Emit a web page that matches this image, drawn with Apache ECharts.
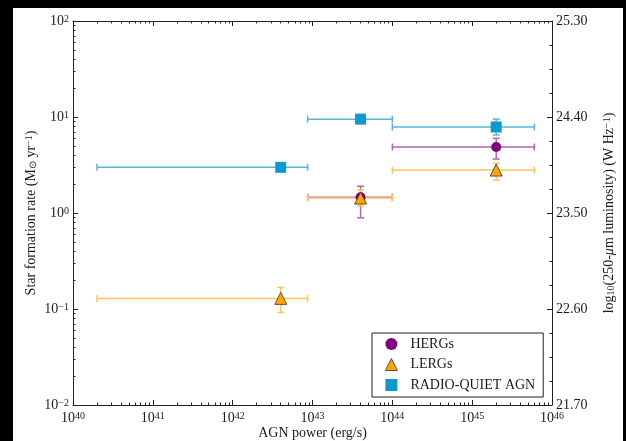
<!DOCTYPE html>
<html><head><meta charset="utf-8">
<script src="https://cdn.jsdelivr.net/npm/echarts@6/dist/echarts.min.js"></script>
<style>
html,body{margin:0;padding:0;background:#000;width:626px;height:441px;overflow:hidden}
#bg{position:absolute;left:13px;top:8px;width:610px;height:433px;background:#fff}
#chart{position:absolute;left:0;top:0;width:626px;height:441px}
</style></head><body>
<div id="bg"></div><div id="chart"></div>
<script>
// ---- tick labels ----
const xTickValues = [1e40, 1e41, 1e42, 1e43, 1e44, 1e45, 1e46];
const xTickExps   = ['40', '41', '42', '43', '44', '45', '46'];
const yTickValues = [1e-2, 1e-1, 1e0, 1e1, 1e2];
const yTickExps   = ['\u22122', '\u22121', '0', '1', '2'];
const rightTicks  = [21.7, 22.6, 23.5, 24.4, 25.3];
const rightTickLabels = ['21.70', '22.60', '23.50', '24.40', '25.30'];

// ---- HERGs ----
const hergX   = [4.0e43, 2.0e45];
const hergY   = [1.46, 4.87];
const hergXLo = [8.7e42, 1.0e44];
const hergXHi = [1.0e44, 6.0e45];
const hergYLo = [0.89, 3.65];
const hergYHi = [1.90, 6.0];

// ---- LERGs ----
const lergX   = [4.0e42, 4.0e43, 2.0e45];
const lergY   = [0.129, 1.43, 2.8];
const lergXLo = [2.0e40, 8.7e42, 1.0e44];
const lergXHi = [8.7e42, 1.0e44, 6.0e45];
const lergYLo = [0.092, 1.18, 2.2];
const lergYHi = [0.168, 1.74, 3.3];

// ---- Radio-quiet AGN ----
const rqX   = [4.0e42, 4.0e43, 2.0e45];
const rqY   = [2.99, 9.5, 7.87];
const rqXLo = [2.0e40, 8.7e42, 1.0e44];
const rqXHi = [8.7e42, 1.0e44, 6.0e45];
const rqYLo = [2.85, 9.0, 6.5];
const rqYHi = [3.15, 10.0, 9.5];

const FONT = 'Liberation Serif';
const TXT = '#1a1a1a';

function rows(x, y, xl, xh, yl, yh) {
  return x.map((v, i) => [v, y[i], xl[i], xh[i], yl[i], yh[i]]);
}
function errSeries(name, data, color) {
  return {
    type: 'custom', name: name, data: data, z: 2, silent: true,
    xAxisIndex: 0, yAxisIndex: 0,
    encode: { x: [0, 2, 3], y: [1, 4, 5] },
    renderItem: function (params, api) {
      const x = api.value(0), y = api.value(1);
      const l = api.coord([api.value(2), y]);
      const r = api.coord([api.value(3), y]);
      const t = api.coord([x, api.value(5)]);
      const b = api.coord([x, api.value(4)]);
      const cap = 3.5;
      const st = { stroke: color, lineWidth: 1.5 };
      const ln = (x1, y1, x2, y2) => ({ type: 'line', shape: { x1, y1, x2, y2 }, style: st });
      return { type: 'group', children: [
        ln(l[0], l[1], r[0], r[1]),
        ln(l[0], l[1] - cap, l[0], l[1] + cap),
        ln(r[0], r[1] - cap, r[0], r[1] + cap),
        ln(t[0], t[1], b[0], b[1]),
        ln(t[0] - cap, t[1], t[0] + cap, t[1]),
        ln(b[0] - cap, b[1], b[0] + cap, b[1])
      ]};
    }
  };
}
function exactIndex(arr, v) {
  let best = 0, bd = Infinity;
  arr.forEach((t, i) => { const d = Math.abs(Math.log10(t) - Math.log10(v)); if (d < bd) { bd = d; best = i; } });
  return best;
}
const richSup = {
  b: { fontFamily: FONT, fontSize: 14, color: TXT, verticalAlign: 'bottom', lineHeight: 14 },
  s: { fontFamily: FONT, fontSize: 10, color: TXT, verticalAlign: 'top', lineHeight: 10, padding: [0, 0, 6, 0] }
};

const chart = echarts.init(document.getElementById('chart'), null, { renderer: 'canvas' });
const logAxisCommon = {
  type: 'log', logBase: 10,
  axisLine: { show: true, lineStyle: { color: '#222', width: 1 } },
  axisTick: { show: true, inside: true, length: 5, lineStyle: { color: '#222', width: 1 } },
  minorTick: { show: true, splitNumber: 9, length: 2.5, lineStyle: { color: '#222', width: 1 } },
  splitLine: { show: false }, minorSplitLine: { show: false }
};
const rightMinor = [];
for (let i = 0; i < rightTicks.length - 1; i++) {
  for (let k = 1; k < 4; k++) rightMinor.push(rightTicks[i] + (rightTicks[i + 1] - rightTicks[i]) * k / 4);
}

chart.setOption({
  animation: false,
  backgroundColor: 'transparent',
  grid: { left: 73, right: 74, top: 21, bottom: 36, containLabel: false, outerBoundsMode: 'none' },
  xAxis: [
    Object.assign({}, logAxisCommon, {
      position: 'bottom', min: 1e40, max: 1e46,
      axisLabel: { margin: 6, formatter: v => '{b|10}{s|' + xTickExps[exactIndex(xTickValues, v)] + '}', rich: richSup },
      name: 'AGN power (erg/s)', nameLocation: 'middle', nameGap: 21, nameMoveOverlap: false,
      nameTextStyle: { fontFamily: FONT, fontSize: 14, color: TXT }
    }),
    Object.assign({}, logAxisCommon, {
      position: 'top', min: 1e40, max: 1e46, axisLabel: { show: false }
    })
  ],
  yAxis: [
    Object.assign({}, logAxisCommon, {
      position: 'left', min: 1e-2, max: 1e2,
      axisLabel: { margin: 4, formatter: v => '{b|10}{s|' + yTickExps[exactIndex(yTickValues, v)] + '}', rich: richSup },
      name: 'Star formation rate (M{sub|\u2299} yr{sup|\u22121})', nameLocation: 'middle', nameGap: 35, nameRotate: 90, nameMoveOverlap: false,
      nameTextStyle: { fontFamily: FONT, fontSize: 14, color: TXT, rich: {
        sub: { fontFamily: FONT, fontSize: 10, color: TXT, verticalAlign: 'bottom', lineHeight: 10, padding: [5, 0, 0, 0] },
        sup: { fontFamily: FONT, fontSize: 10, color: TXT, verticalAlign: 'top', lineHeight: 10, padding: [0, 0, 6, 0] }
      } }
    }),
    {
      type: 'value', position: 'right', min: 21.7, max: 25.3,
      axisLine: { show: true, lineStyle: { color: '#222', width: 1 } },
      axisTick: { show: true, inside: true, length: 5, customValues: rightTicks, lineStyle: { color: '#222', width: 1 } },
      axisLabel: { show: true, margin: 4, customValues: rightTicks,
        formatter: v => rightTickLabels[rightTicks.findIndex(t => Math.abs(t - v) < 1e-6)],
        fontFamily: FONT, fontSize: 14, color: TXT },
      splitLine: { show: false },
      name: 'log{sub|10}(250-{i|\u03bc}m luminosity) (W Hz{sup|\u22121})', nameLocation: 'middle', nameGap: 50, nameRotate: 90,
      nameTextStyle: { fontFamily: FONT, fontSize: 14, color: TXT, rich: {
        sub: { fontFamily: FONT, fontSize: 10, color: TXT, verticalAlign: 'bottom', lineHeight: 10, padding: [5, 0, 0, 0] },
        sup: { fontFamily: FONT, fontSize: 10, color: TXT, verticalAlign: 'top', lineHeight: 10, padding: [0, 0, 6, 0] },
        i: { fontFamily: FONT, fontSize: 14, color: TXT, fontStyle: 'italic' }
      } }
    },
    {
      type: 'value', position: 'right', min: 21.7, max: 25.3,
      axisLine: { show: false },
      axisTick: { show: true, inside: true, length: 2.5, customValues: rightMinor, lineStyle: { color: '#222', width: 1 } },
      axisLabel: { show: false }, splitLine: { show: false }
    }
  ],
  legend: {
    left: 372, top: 333, orient: 'vertical', selectedMode: false,
    backgroundColor: '#fff', borderColor: '#222', borderWidth: 1, borderRadius: 0,
    padding: [3, 8, 4, 13], itemGap: 4.5, itemWidth: 12, itemHeight: 12,
    textStyle: { fontFamily: FONT, fontSize: 14, color: TXT, lineHeight: 16, padding: [0, 0, 0, 8] },
    data: [
      { name: 'HERGs', icon: 'circle', itemStyle: { borderWidth: 0 } },
      { name: 'LERGs', icon: 'triangle', itemStyle: { borderWidth: 0.8, borderColor: '#333' } },
      { name: 'RADIO-QUIET AGN', icon: 'rect', itemStyle: { borderWidth: 0 } }
    ]
  },
  series: [
    errSeries('herr', rows(hergX, hergY, hergXLo, hergXHi, hergYLo, hergYHi), '#b366b3'),
    errSeries('lerr', rows(lergX, lergY, lergXLo, lergXHi, lergYLo, lergYHi), '#ffc45c'),
    errSeries('rerr', rows(rqX, rqY, rqXLo, rqXHi, rqYLo, rqYHi), '#55b5e2'),
    { type: 'scatter', name: 'HERGs', z: 5, symbol: 'circle', symbolSize: 10,
      data: hergX.map((v, i) => [v, hergY[i]]),
      itemStyle: { color: '#800080', borderWidth: 0, opacity: 1 } },
    { type: 'scatter', name: 'LERGs', z: 6, symbol: 'triangle', symbolSize: 12,
      data: lergX.map((v, i) => [v, lergY[i]]),
      itemStyle: { color: '#ffa500', borderColor: '#333', borderWidth: 0.8, opacity: 1 } },
    { type: 'scatter', name: 'RADIO-QUIET AGN', z: 7, symbol: 'rect', symbolSize: 11,
      data: rqX.map((v, i) => [v, rqY[i]]),
      itemStyle: { color: '#0f97d0', borderWidth: 0, opacity: 1 } }
  ]
});
</script>
</body></html>
